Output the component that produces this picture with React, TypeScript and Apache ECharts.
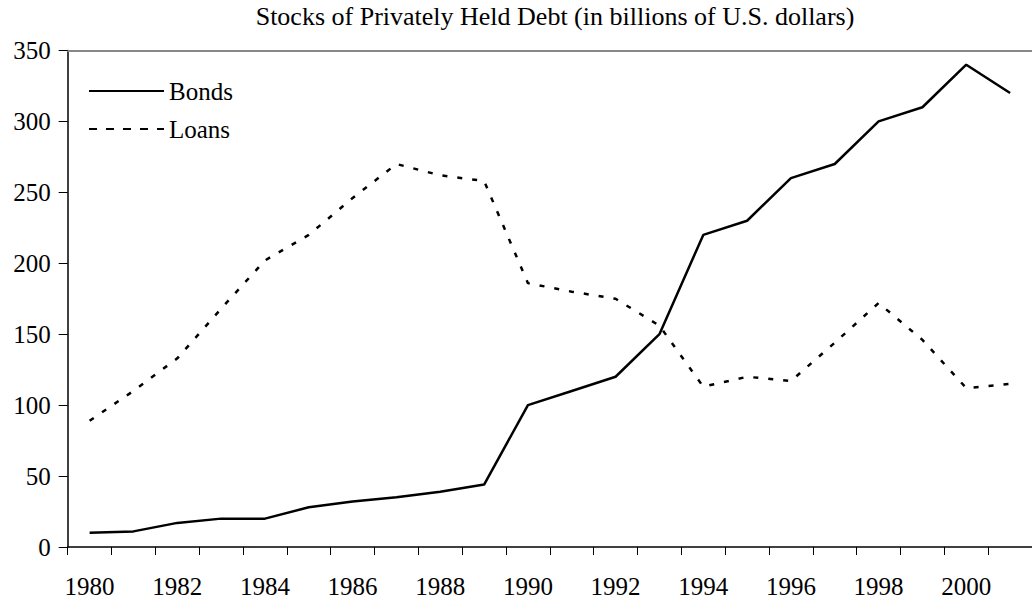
import React, { useEffect, useRef } from "react";
import * as echarts from "echarts";

const years = [
  "1980", "1981", "1982", "1983", "1984", "1985", "1986", "1987", "1988", "1989", "1990",
  "1991", "1992", "1993", "1994", "1995", "1996", "1997", "1998", "1999", "2000", "2001",
];
const bonds = [10, 11, 17, 20, 20, 28, 32, 35, 39, 44, 100, 110, 120, 150, 220, 230, 260, 270, 300, 310, 340, 320];
const loans = [89, 110, 133, 168, 202, 220, 246, 270, 262, 258, 186, 180, 175, 156, 113, 120, 117, 144, 172, 146, 112, 115];
const titleText = "Stocks of Privately Held Debt (in billions of U.S. dollars)";

const FONT = "Liberation Serif, Times New Roman, serif";

export default function App() {
  const ref = useRef<HTMLDivElement>(null);
  useEffect(() => {
    if (!ref.current) return;
    const chart = echarts.init(ref.current, null, { renderer: "svg" });
    chart.setOption({
      animation: false,
      backgroundColor: "#ffffff",
      textStyle: { fontFamily: FONT, color: "#000" },
      title: {
        text: titleText,
        left: 555,
        top: 3,
        textAlign: "center",
        padding: 0,
        textStyle: { fontFamily: FONT, fontSize: 26, fontWeight: "normal", color: "#000" },
      },
      legend: {
        orient: "vertical",
        left: 88,
        top: 78.5,
        padding: 0,
        itemWidth: 75,
        itemHeight: 14,
        itemGap: 13,
        itemStyle: { opacity: 0 },
        textStyle: { fontFamily: FONT, fontSize: 25, color: "#000", lineHeight: 25 },
        data: [
          { name: "Bonds" },
          { name: "Loans", lineStyle: { type: [8, 9] } },
        ],
      },
      grid: { left: 67.7, top: 50.5, width: 971.8, height: 496.5, containLabel: false },
      xAxis: [
        {
          type: "category",
          data: years,
          boundaryGap: true,
          position: "bottom",
          axisLine: { lineStyle: { color: "#000", width: 1.5 } },
          axisTick: { show: true, interval: 0, length: 8, lineStyle: { color: "#000", width: 1 } },
          axisLabel: {
            interval: 1,
            margin: 27,
            fontFamily: FONT,
            fontSize: 25,
            color: "#000",
          },
          splitLine: { show: false },
        },
        {
          type: "category",
          data: years,
          position: "top",
          axisLine: { show: true, lineStyle: { color: "#888", width: 2 } },
          axisTick: { show: false },
          axisLabel: { show: false },
          splitLine: { show: false },
        },
      ],
      yAxis: {
        type: "value",
        min: 0,
        max: 350,
        interval: 50,
        axisLine: { show: true, lineStyle: { color: "#000", width: 1.5 } },
        axisTick: { show: true, length: 9, lineStyle: { color: "#000", width: 1 } },
        axisLabel: { margin: 17, fontFamily: FONT, fontSize: 25, color: "#000" },
        splitLine: { show: false },
      },
      series: [
        {
          name: "Bonds",
          type: "line",
          data: bonds,
          symbol: "none",
          lineStyle: { color: "#000", width: 2.5, type: "solid" },
          itemStyle: { color: "#000" },
        },
        {
          name: "Loans",
          type: "line",
          data: loans,
          symbol: "none",
          lineStyle: { color: "#000", width: 2.5, type: [5, 10] },
          itemStyle: { color: "#000" },
        },
      ],
    });
    return () => chart.dispose();
  }, []);
  return (
    <div
      ref={ref}
      style={{ position: "fixed", left: 0, top: 0, width: 1032, height: 602, background: "#fff" }}
    />
  );
}
